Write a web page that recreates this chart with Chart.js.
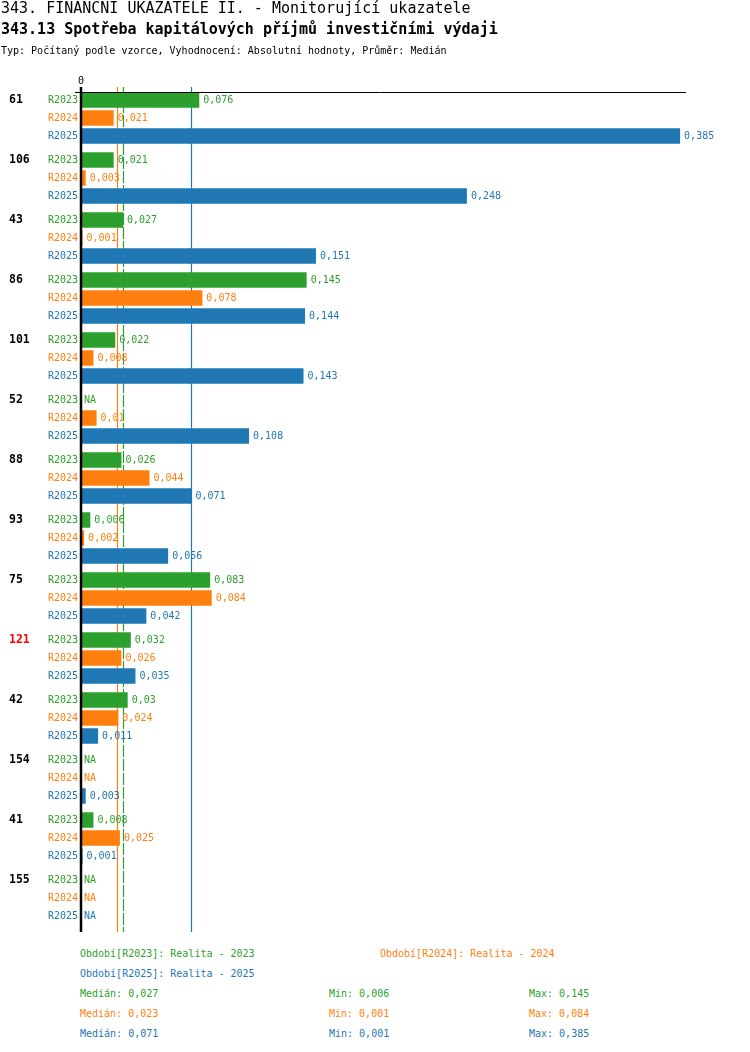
<!DOCTYPE html>
<html lang="cs">
<head>
  <meta charset="UTF-8">
  <title>343.13 Spotřeba kapitálových příjmů investičními výdaji</title>
  <script src="https://cdn.jsdelivr.net/npm/chart.js"></script>
  <style>
    body {
      margin: 0;
      background: #fff;
      font-family: 'DejaVu Sans Mono', monospace;
      color: #000;
    }
    .page { position: relative; width: 750px; height: 1052px; }
    .t { position: absolute; white-space: pre; }
    #title1 { left: 1px; top: 1px; font-size: 15px; line-height: 15px; }
    #title2 { left: 1px; top: 22px; font-size: 15px; line-height: 15px; font-weight: bold; }
    #sub { left: 1px; top: 46px; font-size: 10px; line-height: 10px; }
    canvas { position: absolute; left: 0; top: 0; }
    #footer .t { font-size: 10px; line-height: 20px; }
  </style>
</head>
<body>
<div class="page">
  <canvas id="chart" width="750" height="940" style="width:750px;height:940px"></canvas>
  <div class="t" id="title1">343. FINANČNÍ UKAZATELE II. - Monitorující ukazatele</div>
  <div class="t" id="title2">343.13 Spotřeba kapitálových příjmů investičními výdaji</div>
  <div class="t" id="sub">Typ: Počítaný podle vzorce, Vyhodnocení: Absolutní hodnoty, Průměr: Medián</div>
  <div id="footer"></div>
</div>

<script>
  // data (null = NA)
  const ids = ['61', '106', '43', '86', '101', '52', '88', '93', '75', '121', '42', '154', '41', '155'];
  const redIds = ['121'];
  const periods = ['R2023', 'R2024', 'R2025'];
  const periodNames = ['Realita - 2023', 'Realita - 2024', 'Realita - 2025'];
  const colors = ['#2ca02c', '#ff7f0e', '#1f77b4'];

  const r2023 = [0.076, 0.021, 0.027, 0.145, 0.022, null, 0.026, 0.006, 0.083, 0.032, 0.03, null, 0.008, null];
  const r2024 = [0.021, 0.003, 0.001, 0.078, 0.008, 0.01, 0.044, 0.002, 0.084, 0.026, 0.024, null, 0.025, null];
  const r2025 = [0.385, 0.248, 0.151, 0.144, 0.143, 0.108, 0.071, 0.056, 0.042, 0.035, 0.011, 0.003, 0.001, null];

  const medians = [0.027, 0.023, 0.071];
  const mins = [0.006, 0.001, 0.001];
  const maxs = [0.145, 0.084, 0.385];

  const series = [r2023, r2024, r2025];
  const fmt = v => String(v).replace('.', ',');
  const FONT = "'DejaVu Sans Mono', monospace";

  // footer legend + stats
  const footer = document.getElementById('footer');
  function addText(txt, x, y, color) {
    const d = document.createElement('div');
    d.className = 't';
    d.style.left = x + 'px';
    d.style.top = y + 'px';
    d.style.color = color;
    d.textContent = txt;
    footer.appendChild(d);
  }
  addText('Období[' + periods[0] + ']: ' + periodNames[0], 80, 944, colors[0]);
  addText('Období[' + periods[1] + ']: ' + periodNames[1], 380, 944, colors[1]);
  addText('Období[' + periods[2] + ']: ' + periodNames[2], 80, 964, colors[2]);
  for (let s = 0; s < 3; s++) {
    const y = 984 + s * 20;
    addText('Medián: ' + fmt(medians[s]), 80, y, colors[s]);
    addText('Min: ' + fmt(mins[s]), 329, y, colors[s]);
    addText('Max: ' + fmt(maxs[s]), 529, y, colors[s]);
  }

  const CAT_PCT = 0.9;

  const overlay = {
    id: 'overlay',
    beforeDatasetsDraw(chart) {
      const ctx = chart.ctx;
      const x = chart.scales.x;
      ctx.save();
      // median lines, behind the bars
      medians.forEach((m, s) => {
        const px = Math.round(x.getPixelForValue(m)) + 0.5;
        ctx.strokeStyle = colors[s];
        ctx.lineWidth = 1.2;
        ctx.setLineDash(s === 0 ? [12, 2] : []);
        ctx.beginPath();
        ctx.moveTo(px, 87);
        ctx.lineTo(px, 932);
        ctx.stroke();
      });
      ctx.restore();
    },
    afterDatasetsDraw(chart) {
      const ctx = chart.ctx;
      const x = chart.scales.x;
      const y = chart.scales.y;
      const x0 = x.getPixelForValue(0);
      const slot = (y.getPixelForValue(1) - y.getPixelForValue(0)) * CAT_PCT / 3;
      ctx.save();
      // axes
      ctx.strokeStyle = '#000';
      ctx.lineWidth = 1;
      ctx.beginPath();
      ctx.moveTo(75, 92.5);
      ctx.lineTo(chart.chartArea.right, 92.5);
      ctx.stroke();
      ctx.lineWidth = 2.5;
      ctx.beginPath();
      ctx.moveTo(x0, 87);
      ctx.lineTo(x0, 932);
      ctx.stroke();

      ctx.fillStyle = '#000';
      ctx.font = '10px ' + FONT;
      ctx.textAlign = 'center';
      ctx.textBaseline = 'middle';
      ctx.fillText('0', x0, 81);

      ids.forEach((id, i) => {
        const c = y.getPixelForValue(i);
        // group id
        ctx.font = 'bold 11.5px ' + FONT;
        ctx.textAlign = 'left';
        ctx.fillStyle = redIds.includes(id) ? '#ff0000' : '#000';
        ctx.fillText(id, 9, c - slot);
        series.forEach((arr, s) => {
          const ry = c + (s - 1) * slot;
          ctx.font = '10px ' + FONT;
          ctx.fillStyle = colors[s];
          ctx.textAlign = 'right';
          ctx.fillText(periods[s], 78, ry);
          ctx.textAlign = 'left';
          const v = arr[i];
          if (v === null) {
            ctx.fillText('NA', x0 + 3, ry);
          } else {
            ctx.fillText(fmt(v), x.getPixelForValue(v) + 4, ry);
          }
        });
      });
      ctx.restore();
    }
  };

  new Chart(document.getElementById('chart').getContext('2d'), {
    type: 'bar',
    data: {
      labels: ids,
      datasets: series.map((arr, s) => ({
        label: periods[s],
        data: arr,
        backgroundColor: colors[s],
        borderWidth: 0,
        categoryPercentage: CAT_PCT,
        barPercentage: 0.86
      }))
    },
    options: {
      indexAxis: 'y',
      responsive: false,
      animation: false,
      layout: { padding: { left: 81, right: 64, top: 88, bottom: 12 } },
      scales: {
        x: { display: false, min: 0, max: 0.3888 },
        y: { display: false }
      },
      plugins: {
        legend: { display: false },
        tooltip: { enabled: false }
      }
    },
    plugins: [overlay]
  });
</script>
</body>
</html>
